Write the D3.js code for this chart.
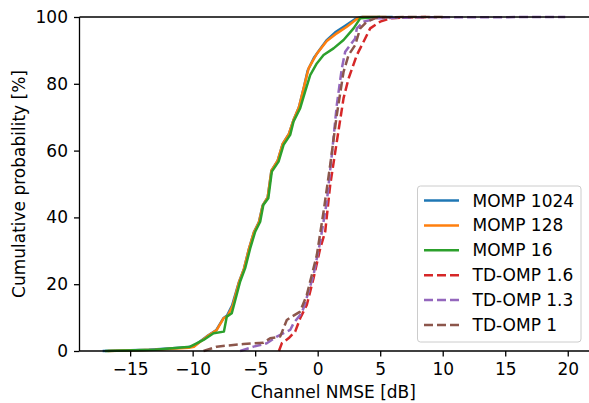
<!DOCTYPE html>
<html>
<head>
<meta charset="utf-8">
<script src="https://cdn.jsdelivr.net/npm/d3@7"></script>
<style>
  body { margin: 0; background: #fff; }
  text { font-family: "DejaVu Sans", sans-serif; fill: #000; }
</style>
</head>
<body>
<svg id="chart" width="589" height="403"></svg>
<script>
// empirical CDFs of channel NMSE, read as (dB, %) pairs
const momp1024X = [-17.2, -13.5, -10.4, -9.9, -8.9, -8.1, -7.55, -7.25, -6.85, -6.3, -5.9, -5.5, -5.1, -4.7, -4.4, -4.0, -3.7, -3.2, -2.8, -2.3, -1.95, -1.5, -1.1, -0.8, -0.3, 0.2, 0.7, 1.4, 2.2, 3.0, 3.5, 6.0];
const momp1024P = [0, 0.4, 1.1, 1.5, 4.3, 6.3, 9.8, 10.6, 13.6, 20.6, 24.6, 30.6, 35.6, 38.6, 43.6, 46.0, 54.0, 57.0, 62.0, 65.0, 69.0, 73.0, 79.0, 84.0, 87.8, 90.4, 93.0, 95.4, 97.4, 99.4, 100, 100];
const momp128X = [-16.8, -13.0, -10.3, -9.9, -8.87, -8.07, -7.53, -7.2, -6.8, -6.3, -5.9, -5.5, -5.1, -4.7, -4.4, -4.0, -3.7, -3.2, -2.8, -2.3, -1.95, -1.5, -1.1, -0.73, -0.07, 0.73, 1.53, 2.33, 3.13, 3.6, 5.5];
const momp128P = [0, 0.4, 1.0, 1.3, 4.3, 6.3, 9.8, 10.5, 13.5, 20.5, 24.5, 30.5, 35.5, 38.5, 43.5, 46.0, 54.0, 57.0, 62.0, 65.0, 69.0, 73.0, 79.0, 84.6, 89.0, 92.8, 95.1, 97.1, 99.4, 100, 100];
const momp16X = [-17.0, -13.0, -10.2, -9.13, -8.33, -7.5, -7.27, -6.87, -6.2, -5.8, -5.4, -5.0, -4.6, -4.35, -3.95, -3.67, -3.13, -2.73, -2.2, -1.93, -1.4, -1.0, -0.6, -0.07, 0.47, 1.27, 2.07, 2.87, 3.4, 5.0];
const momp16P = [0, 0.4, 1.3, 3.3, 5.3, 5.8, 10.3, 11.3, 20.8, 24.8, 30.7, 35.7, 38.7, 43.7, 45.7, 53.7, 56.7, 61.7, 64.7, 68.7, 72.7, 77.7, 82.6, 86.1, 88.6, 90.6, 93.1, 96.6, 99.6, 100];
const td16X = [-3.1, -2.87, -2.33, -1.8, -1.4, -0.87, -0.33, 0.2, 0.6, 1.0, 1.53, 2.07, 2.47, 3.13, 3.67, 4.2, 5.0, 5.8, 7.0, 9.0];
const td16P = [0, 2.3, 3.8, 5.8, 9.8, 13.8, 21.8, 30.7, 35.7, 49.7, 62.7, 75.7, 81.6, 88.6, 92.6, 96.6, 98.6, 99.6, 99.9, 100];
const td13X = [-6.2, -5.13, -4.07, -3.27, -2.2, -1.93, -1.4, -1.13, -0.33, 0.2, 0.73, 1.13, 1.53, 1.93, 2.2, 2.6, 3.0, 3.13, 3.67, 4.73, 8.0, 19.8];
const td13P = [0, 1.3, 2.3, 4.3, 6.3, 8.3, 10.8, 12.8, 22.8, 32.7, 44.7, 58.7, 73.7, 84.6, 89.6, 91.6, 93.6, 96.6, 98.6, 99.6, 99.9, 100];
const td1X = [-9.13, -8.07, -5.93, -4.33, -3.8, -3.0, -2.47, -2.2, -1.4, -0.87, -0.07, 0.47, 1.0, 1.53, 2.07, 2.47, 3.0, 3.4, 3.93, 4.73, 7.0, 10.0];
const td1P = [0, 1.3, 2.1, 2.5, 3.8, 4.3, 9.3, 10.0, 11.8, 16.8, 28.7, 41.7, 55.7, 70.7, 83.6, 88.6, 91.6, 96.6, 98.6, 99.8, 100, 100];

const seriesNames = ["MOMP 1024", "MOMP 128", "MOMP 16", "TD-OMP 1.6", "TD-OMP 1.3", "TD-OMP 1"];
const seriesX = [momp1024X, momp128X, momp16X, td16X, td13X, td1X];
const seriesP = [momp1024P, momp128P, momp16P, td16P, td13P, td1P];
const seriesColors = ["#1f77b4", "#ff7f0e", "#2ca02c", "#d62728", "#9467bd", "#8c564b"];
const seriesDashed = [false, false, false, true, true, true];

const xTicks = [-15, -10, -5, 0, 5, 10, 15, 20];
const yTicks = [0, 20, 40, 60, 80, 100];

const svg = d3.select("#chart");
const plotLeft = 79.5, plotRight = 589, plotTop = 17, plotBottom = 351;
const fontSize = "17px";

const x = d3.scaleLinear().domain([-19.05, 21.7]).range([plotLeft, plotRight]);
const y = d3.scaleLinear().domain([0, 100]).range([plotBottom, plotTop]);

const line = d3.line()
    .x(d => x(d[0]))
    .y(d => y(d[1]));

const plot = svg.append("g");
seriesNames.forEach((name, i) => {
    const pts = seriesX[i].map((v, j) => [v, seriesP[i][j]]);
    plot.append("path")
        .datum(pts)
        .attr("d", line)
        .attr("fill", "none")
        .attr("stroke", seriesColors[i])
        .attr("stroke-width", 2.5)
        .attr("stroke-linejoin", "round")
        .attr("stroke-dasharray", seriesDashed[i] ? "9,4" : null);
});

// axes
const xAxis = svg.append("g")
    .attr("transform", `translate(0,${plotBottom})`)
    .call(d3.axisBottom(x).tickValues(xTicks).tickSize(5.5).tickPadding(6.5)
        .tickFormat(d => d < 0 ? "\u2212" + Math.abs(d) : d));
const yAxis = svg.append("g")
    .attr("transform", `translate(${plotLeft},0)`)
    .call(d3.axisLeft(y).tickValues(yTicks).tickSize(5.5).tickPadding(6));

[xAxis, yAxis].forEach(a => {
    a.select(".domain").attr("stroke", "#000").attr("stroke-width", 1.3);
    a.selectAll(".tick line").attr("stroke", "#000").attr("stroke-width", 1.3);
    a.selectAll(".tick text").style("font-size", fontSize).attr("font-family", null);
});
xAxis.select(".domain").attr("d", `M${plotLeft},0H${plotRight}`);
yAxis.select(".domain").attr("d", `M0,${plotTop}V${plotBottom}`);

// top spine
svg.append("line")
    .attr("x1", plotLeft).attr("x2", plotRight)
    .attr("y1", plotTop).attr("y2", plotTop)
    .attr("stroke", "#000").attr("stroke-width", 1.3);

svg.append("text")
    .attr("x", (plotLeft + plotRight) / 2 - 1)
    .attr("y", 398)
    .attr("text-anchor", "middle")
    .style("font-size", fontSize)
    .text("Channel NMSE [dB]");

svg.append("text")
    .attr("transform", `translate(25,${(plotTop + plotBottom) / 2}) rotate(-90)`)
    .attr("text-anchor", "middle")
    .style("font-size", fontSize)
    .text("Cumulative probability [%]");

// legend
const legend = svg.append("g");
legend.append("rect")
    .attr("x", 417.5).attr("y", 186)
    .attr("width", 163.5).attr("height", 156)
    .attr("rx", 3)
    .attr("fill", "#fff").attr("fill-opacity", 0.8)
    .attr("stroke", "#ccc").attr("stroke-width", 1);

seriesNames.forEach((name, i) => {
    const ly = 200.5 + i * 24.9;
    legend.append("line")
        .attr("x1", 424).attr("x2", 459)
        .attr("y1", ly).attr("y2", ly)
        .attr("stroke", seriesColors[i])
        .attr("stroke-width", 2.5)
        .attr("stroke-dasharray", seriesDashed[i] ? "9,4" : null);
    legend.append("text")
        .attr("x", 472.5)
        .attr("y", ly + 6)
        .style("font-size", fontSize)
        .text(name);
});
</script>
</body>
</html>
